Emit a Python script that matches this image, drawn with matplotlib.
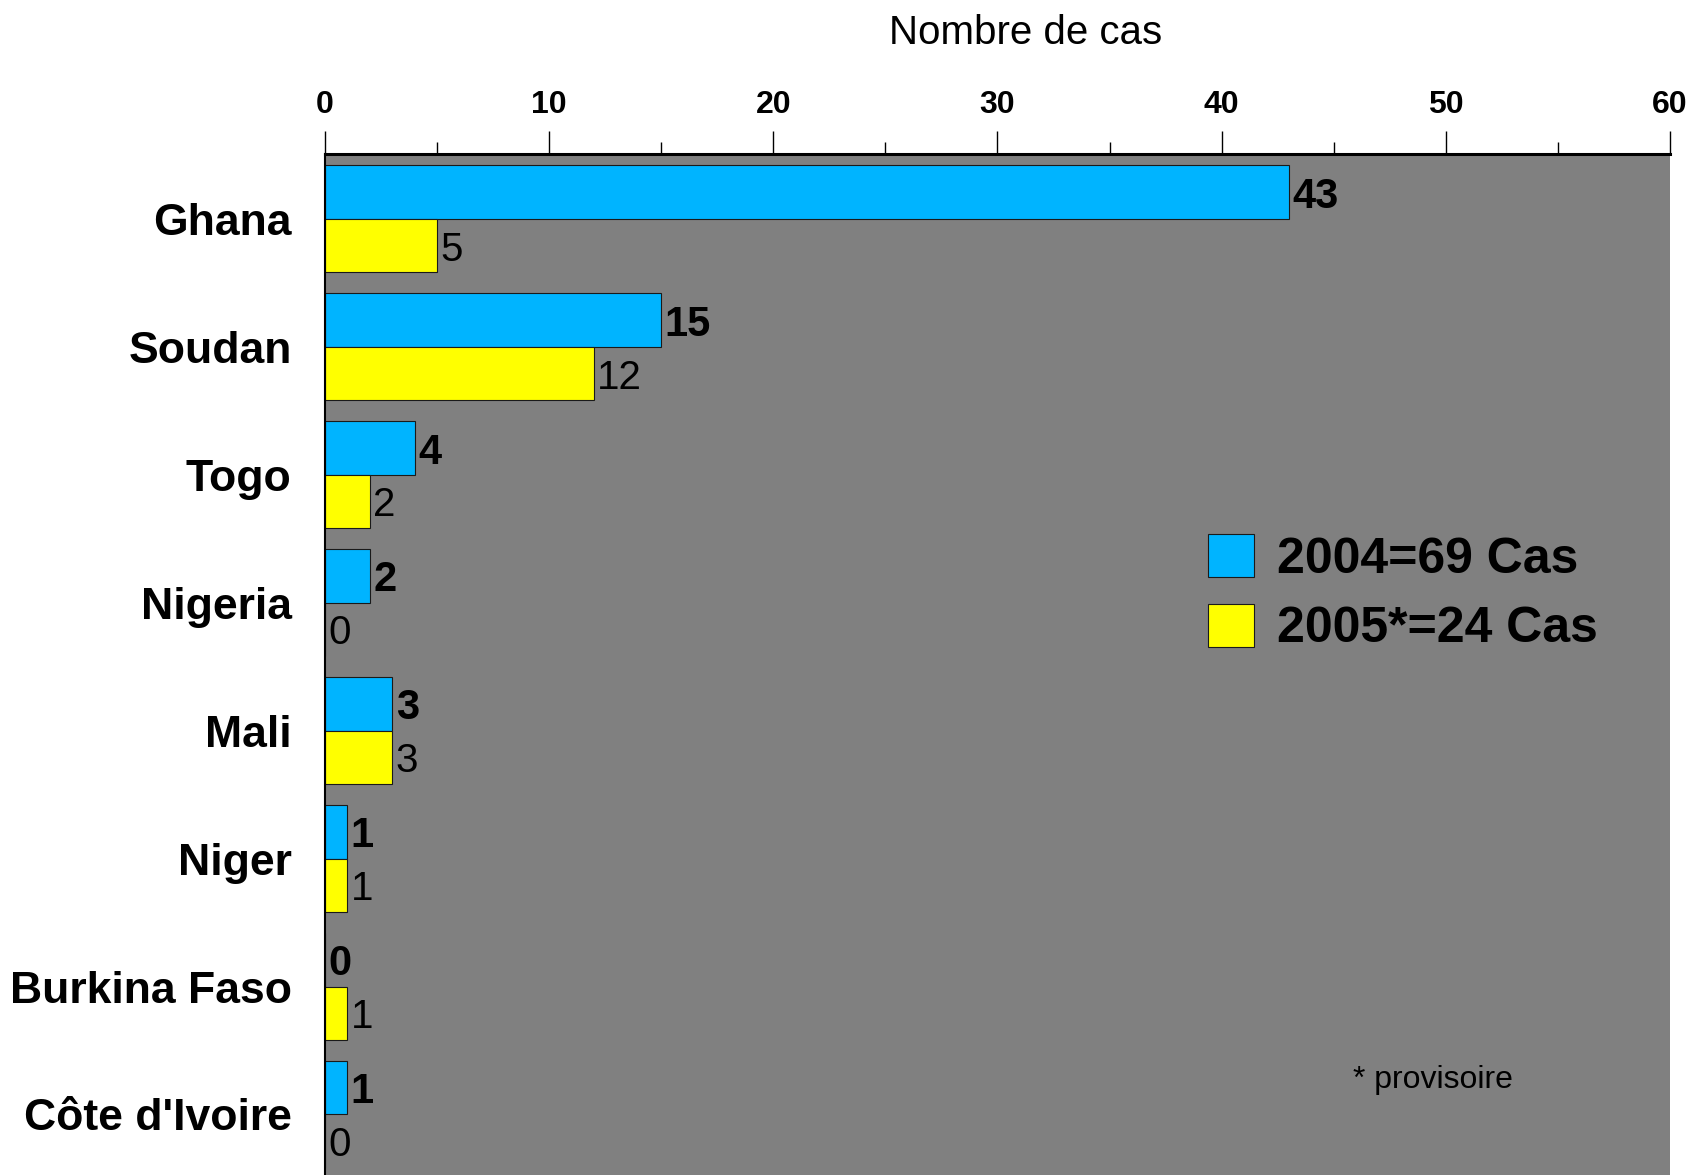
import numpy as np
import matplotlib.pyplot as plt
from matplotlib.ticker import MultipleLocator

plt.rcParams['font.family'] = ['Liberation Sans', 'DejaVu Sans']

# Data
countries = ['Ghana', 'Soudan', 'Togo', 'Nigeria', 'Mali', 'Niger', 'Burkina Faso', "Côte d'Ivoire"]
cas_2004 = [43, 15, 4, 2, 3, 1, 0, 1]
cas_2005 = [5, 12, 2, 0, 3, 1, 1, 0]
label_2004 = '2004=69 Cas'
label_2005 = '2005*=24 Cas'

blue = '#00B4FF'
yellow = '#FFFF00'

fig = plt.figure(figsize=(16.93, 11.75), dpi=100)
ax = fig.add_axes([325 / 1693, 0.0, (1670 - 325) / 1693, 1 - 154 / 1175])
ax.set_facecolor('#808080')

y = np.arange(len(countries))
h = 0.418
b1 = ax.barh(y - h / 2, cas_2004, height=h, color=blue, edgecolor='#1a1a1a', linewidth=0.8, label=label_2004)
b2 = ax.barh(y + h / 2, cas_2005, height=h, color=yellow, edgecolor='#1a1a1a', linewidth=0.8, label=label_2005)

# value labels
for yy, v in zip(y - h / 2, cas_2004):
    ax.text(v + 0.15, yy, str(v), fontsize=30, fontweight='bold', va='center_baseline', ha='left')
for yy, v in zip(y + h / 2, cas_2005):
    ax.text(v + 0.15, yy, str(v), fontsize=29, va='center_baseline', ha='left')

ax.set_xlim(0, 60)
ax.set_ylim(7.473, -0.507)
ax.set_yticks(y)
ax.set_yticklabels(countries, fontsize=32, fontweight='bold')
ax.tick_params(axis='y', length=0, pad=24)

ax.xaxis.tick_top()
ax.xaxis.set_major_locator(MultipleLocator(10))
ax.xaxis.set_minor_locator(MultipleLocator(5))
ax.tick_params(axis='x', which='major', direction='out', length=16.5, width=1, pad=8, labelsize=23)
ax.tick_params(axis='x', which='minor', direction='out', length=8.5, width=1)
for lbl in ax.get_xticklabels():
    lbl.set_fontweight('bold')

ax.spines['top'].set_linewidth(2.2)
ax.spines['left'].set_linewidth(1.5)
ax.spines['right'].set_visible(False)
ax.spines['bottom'].set_visible(False)

fig.text(0.606, 0.972, 'Nombre de cas', fontsize=29, ha='center', va='center')

ax.legend(handles=[b1, b2], loc='upper left', bbox_to_anchor=(1208 / 1693, 1 - 534 / 1175),
          bbox_transform=fig.transFigure, frameon=False, borderpad=0, borderaxespad=0,
          prop={'size': 36, 'weight': 'bold'}, handlelength=0.92, handleheight=0.95,
          handletextpad=0.46, labelspacing=0.42)

fig.text(1353 / 1693, 1 - 1080 / 1175, '* provisoire', fontsize=23, ha='left', va='center')

plt.savefig('out.png', dpi=100)
